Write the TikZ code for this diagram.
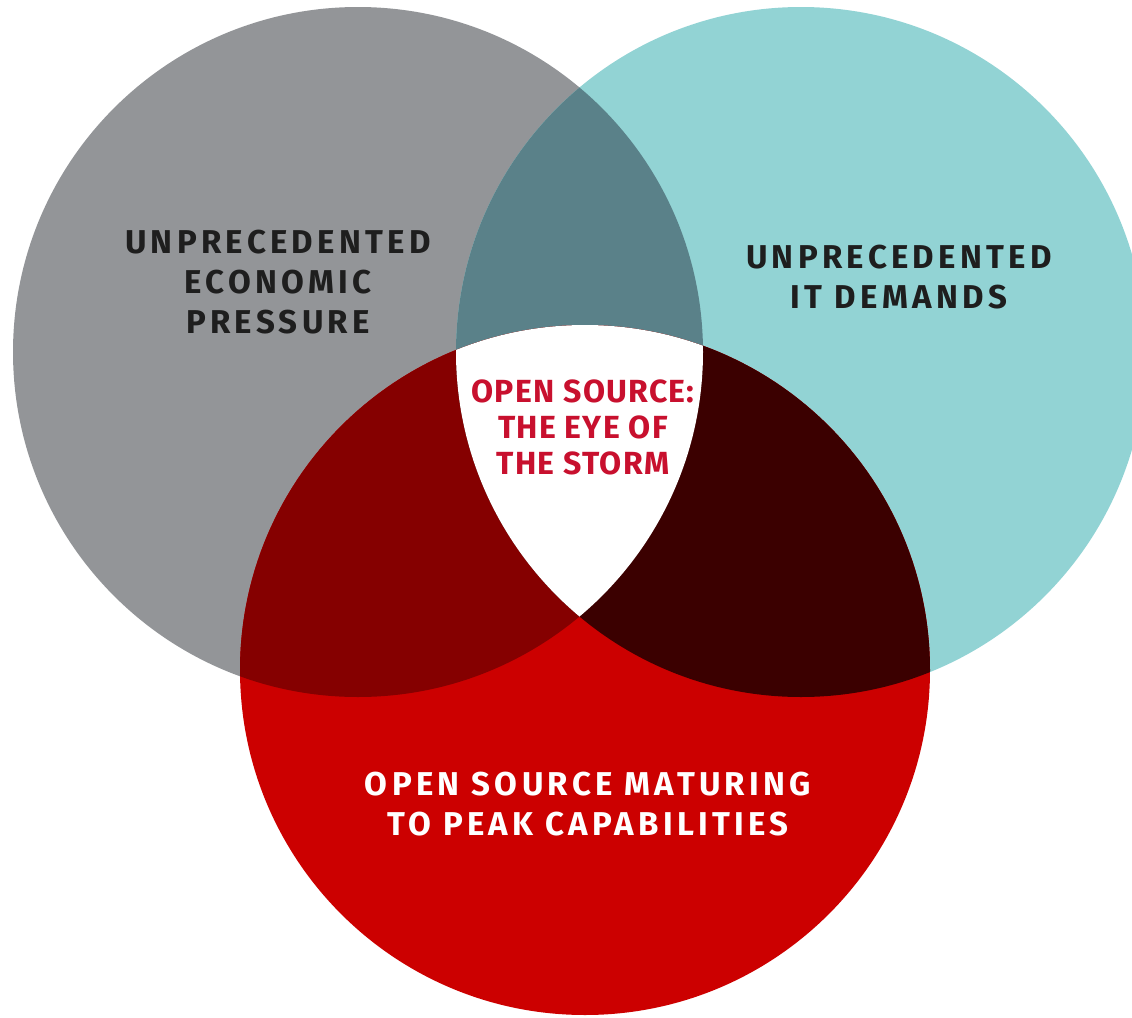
\documentclass[tikz,border=0pt]{standalone}
\usepackage{fontspec}
\setmainfont{Fira Sans}[LetterSpace=13]
\newfontfamily\ctrfont{Fira Sans}[LetterSpace=4]
\definecolor{cgray}{HTML}{939598}
\definecolor{cteal}{HTML}{92D3D4}
\definecolor{cgt}{HTML}{5A8189}
\definecolor{cgr}{HTML}{850000}
\definecolor{ctr}{HTML}{3B0000}
\definecolor{cred}{HTML}{CC0000}
\definecolor{ctxt}{HTML}{1E1E1E}
\definecolor{cctr}{HTML}{C8102E}
\tikzset{
  lbl/.style={align=center,font=\bfseries\fontsize{16.5}{20}\selectfont,inner sep=0pt},
}
\begin{document}
\begin{tikzpicture}[x=0.5pt,y=-0.5pt]
\useasboundingbox (0,0) rectangle (1132,1018);
\clip (0,0) rectangle (1132,1018);
\def\gray{(358,352) circle[radius=345]}
\def\teal{(801,352) circle[radius=345]}
\def\red{(585,670) circle[radius=345]}
\fill[cgray] \gray;
\fill[cteal] \teal;
\fill[cred] \red;
\begin{scope}
  \clip \gray;
  \fill[cgt] \teal;
  \fill[cgr] \red;
\end{scope}
\begin{scope}
  \clip \teal;
  \fill[ctr] \red;
  \clip \gray;
  \fill[white] \red;
\end{scope}
\node[lbl,text=ctxt] (econ) at (278,282.5) {UNPRECEDENTED\\ECONOMIC\\PRESSURE};
\node[lbl,text=ctxt] (it) at (899,277.5) {UNPRECEDENTED\\IT DEMANDS};
\node[lbl,text=cctr,font=\ctrfont\bfseries\fontsize{16}{17.8}\selectfont] (eye) at (583,427.5) {OPEN SOURCE:\\THE EYE OF\\THE STORM};
\node[lbl,text=white] (os) at (588,804.5) {OPEN SOURCE MATURING\\TO PEAK CAPABILITIES};
\end{tikzpicture}
\end{document}
